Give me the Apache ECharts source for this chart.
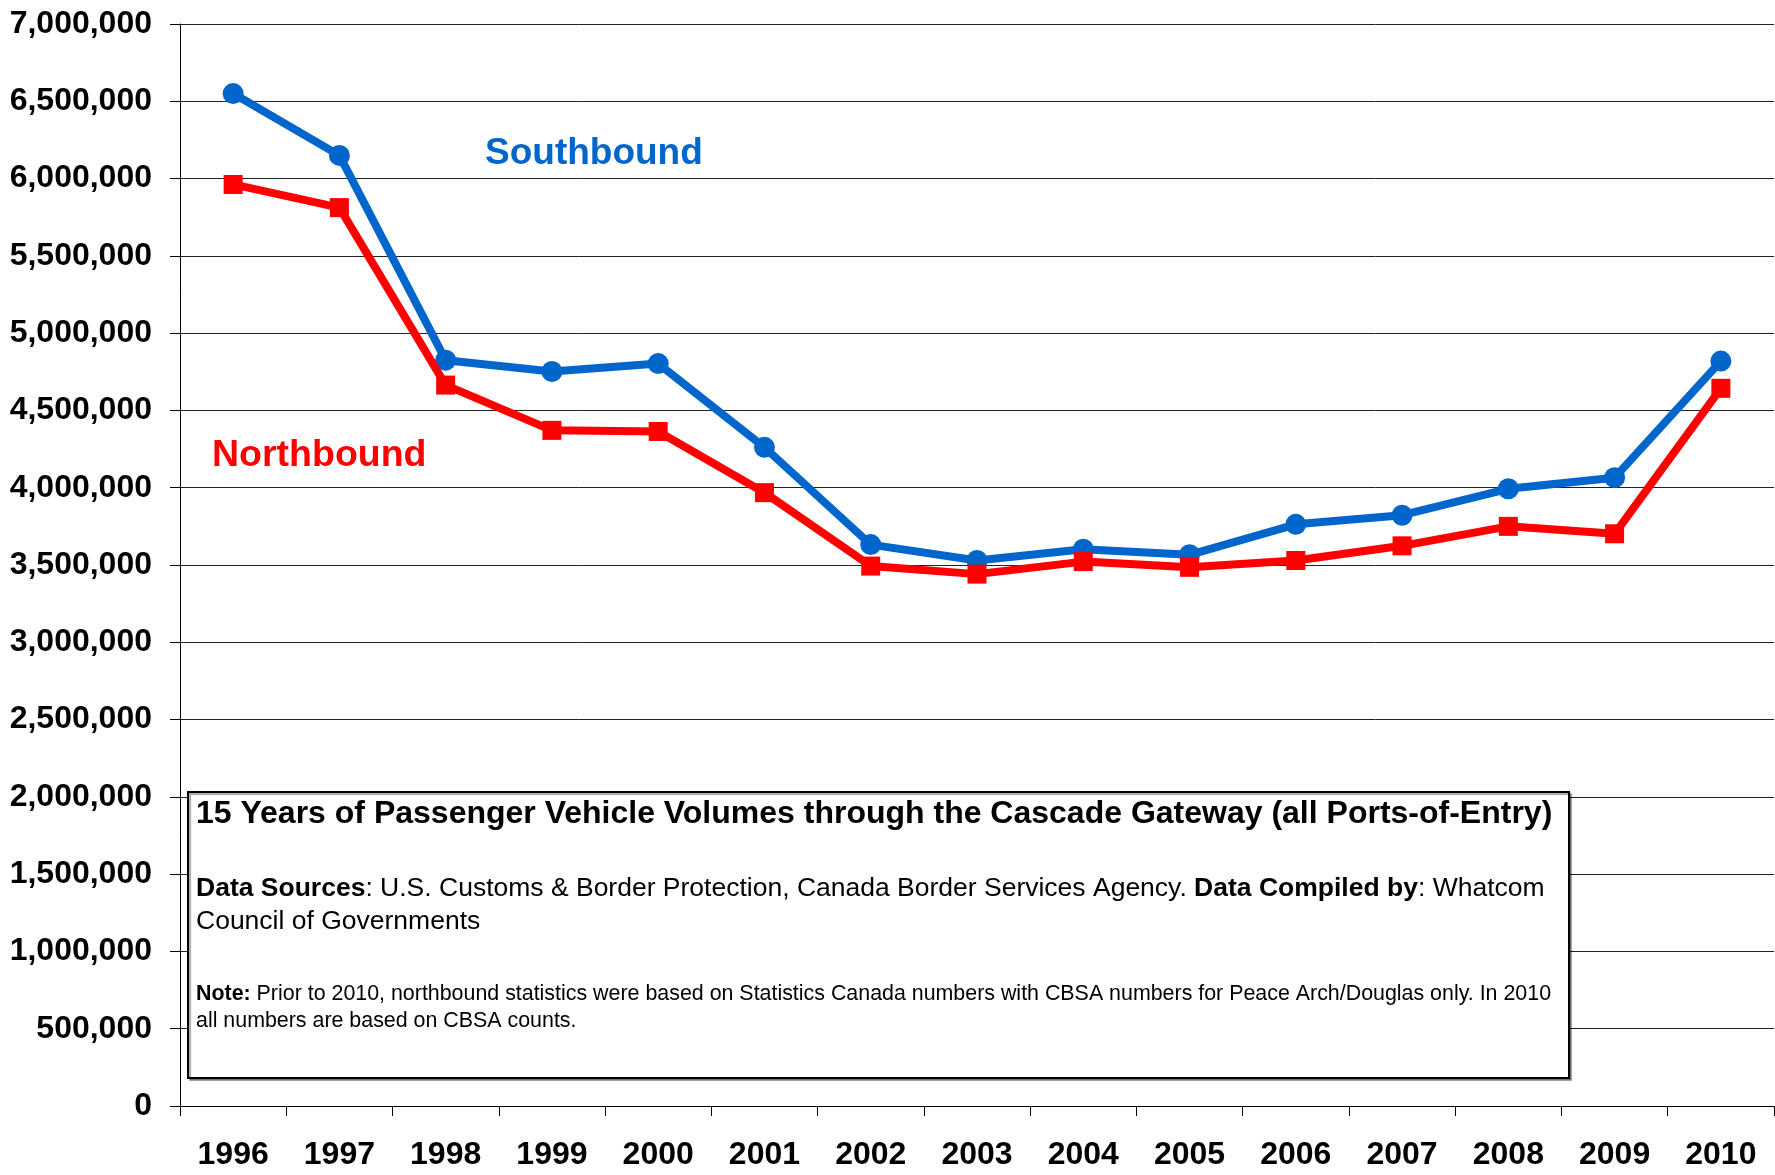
<!DOCTYPE html>
<html>
<head>
<meta charset="utf-8">
<script src="https://cdn.jsdelivr.net/npm/echarts@6/dist/echarts.min.js"></script>
<style>
  html, body { margin: 0; padding: 0; background: #fff; }
  #chart-box { width: 1775px; height: 1175px; }
</style>
</head>
<body>
<div id="chart-box"></div>
<script>
// years on the x axis
const years = ['1996','1997','1998','1999','2000','2001','2002','2003','2004','2005','2006','2007','2008','2009','2010'];
// passenger vehicles
const southbound = [6550000, 6150000, 4825000, 4752000, 4803000, 4261000, 3632000, 3529000, 3602000, 3566000, 3763000, 3822000, 3993000, 4065000, 4819000];
const northbound = [5962000, 5812000, 4664000, 4371000, 4364000, 3968000, 3493000, 3441000, 3522000, 3485000, 3529000, 3624000, 3750000, 3702000, 4643000];

const titleText = '15 Years of Passenger Vehicle Volumes through the Cascade Gateway (all Ports-of-Entry)';
const sourceText = '{b|Data Sources}: U.S. Customs & Border Protection, Canada Border Services Agency. {b|Data Compiled by}: Whatcom\nCouncil of Governments';
const noteText = '{b|Note:} Prior to 2010, northbound statistics were based on Statistics Canada numbers with CBSA numbers for Peace Arch/Douglas only. In 2010\nall numbers are based on CBSA counts.';

const FONT = '"Liberation Sans", Arial, sans-serif';

const myChart = echarts.init(document.getElementById('chart-box'));

const option = {
  animation: false,
  backgroundColor: '#fff',
  textStyle: { fontFamily: FONT },
  grid: { left: 180, right: 1, top: 24, bottom: 69 },
  xAxis: {
    type: 'category',
    data: years,
    boundaryGap: true,
    axisLine: { lineStyle: { color: '#000', width: 1 } },
    axisTick: { show: true, length: 10, inside: false, lineStyle: { color: '#000' } },
    axisLabel: { margin: 33, fontSize: 32, fontWeight: 'bold', color: '#000', fontFamily: FONT },
    splitLine: { show: false }
  },
  yAxis: {
    type: 'value',
    min: 0,
    max: 7000000,
    interval: 500000,
    axisLine: { show: true, lineStyle: { color: '#000', width: 1 } },
    axisTick: { show: true, length: 10, lineStyle: { color: '#000' } },
    axisLabel: {
      margin: 28,
      fontSize: 32,
      fontWeight: 'bold',
      color: '#000',
      fontFamily: FONT,
      formatter: (v) => v.toLocaleString('en-US')
    },
    splitLine: { show: true, lineStyle: { color: '#222', width: 1 } }
  },
  series: [
    {
      name: 'Southbound',
      type: 'line',
      data: southbound,
      symbol: 'circle',
      symbolSize: 21,
      lineStyle: { color: '#0066CC', width: 8 },
      itemStyle: { color: '#0066CC' },
      z: 3
    },
    {
      name: 'Northbound',
      type: 'line',
      data: northbound,
      symbol: 'rect',
      symbolSize: 19,
      lineStyle: { color: '#FF0000', width: 8 },
      itemStyle: { color: '#FF0000' },
      z: 4
    }
  ],
  graphic: [
    {
      type: 'text',
      left: 485, top: 135,
      style: { text: 'Southbound', fill: '#0066CC', font: 'bold 37px ' + FONT }
    },
    {
      type: 'text',
      left: 212, top: 437,
      style: { text: 'Northbound', fill: '#FF0000', font: 'bold 37.5px ' + FONT }
    },
    {
      type: 'group',
      left: 187, top: 791,
      z: 100,
      children: [
        {
          type: 'rect',
          z: 100,
          shape: { x: 0, y: 0, width: 1381, height: 286 },
          style: {
            fill: '#fff', stroke: '#000', lineWidth: 2,
            shadowColor: 'rgba(0,0,0,0.35)', shadowOffsetX: 2, shadowOffsetY: 2, shadowBlur: 1
          }
        },
        {
          type: 'text',
          z: 101,
          x: 8, y: 6,
          style: { text: titleText, fill: '#000', font: 'bold 32px ' + FONT }
        },
        {
          type: 'text',
          z: 101,
          x: 8, y: 80,
          style: {
            text: sourceText,
            fill: '#000',
            font: '26.5px ' + FONT,
            lineHeight: 33,
            rich: { b: { fontWeight: 'bold', fontSize: 26.5, fontFamily: FONT, lineHeight: 33 } }
          }
        },
        {
          type: 'text',
          z: 101,
          x: 8, y: 189,
          style: {
            text: noteText,
            fill: '#000',
            font: '21.4px ' + FONT,
            lineHeight: 27,
            rich: { b: { fontWeight: 'bold', fontSize: 21.4, fontFamily: FONT, lineHeight: 27 } }
          }
        }
      ]
    }
  ]
};

myChart.setOption(option);
</script>
</body>
</html>
